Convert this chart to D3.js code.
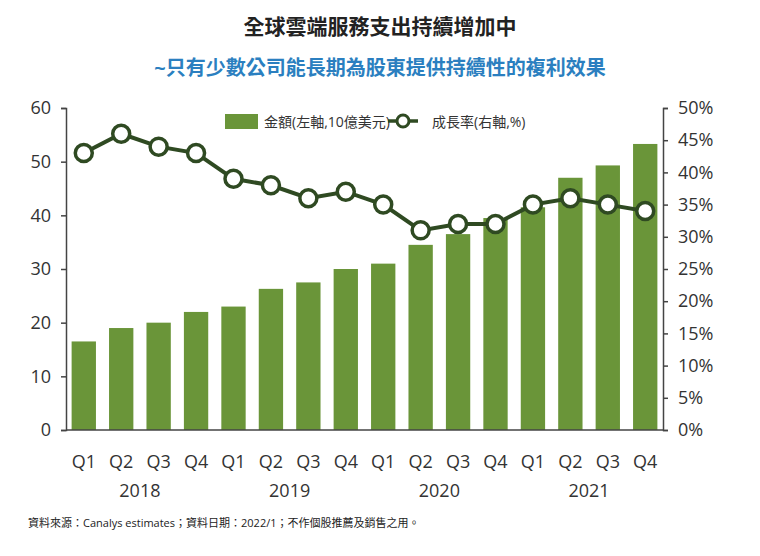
<!DOCTYPE html>
<html>
<head>
  <meta charset="utf-8">
  <script src="https://d3js.org/d3.v7.min.js"></script>
  <style>
    body { margin: 0; background: #fff; }
    text { font-family: "Open Sans", "Noto Sans CJK TC", sans-serif; }
  </style>
</head>
<body>
<div id="chart"></div>
<script>
// Data
var quarters = ["Q1","Q2","Q3","Q4","Q1","Q2","Q3","Q4","Q1","Q2","Q3","Q4","Q1","Q2","Q3","Q4"];
var years = ["2018", "2019", "2020", "2021"];
var spend = [16.5, 19, 20, 22, 23, 26.3, 27.5, 30, 31, 34.5, 36.5, 39.5, 41.5, 47, 49.3, 53.3];
var growth = [43, 46, 44, 43, 39, 38, 36, 37, 35, 31, 32, 32, 35, 36, 35, 34];
var leftTicks = [0, 10, 20, 30, 40, 50, 60];
var rightTicks = [0, 5, 10, 15, 20, 25, 30, 35, 40, 45, 50];

var W = 760, H = 556, green = "#6a9539", dark = "#2f4a22";
var m = { left: 66, right: 97, top: 108, bottom: 126 };

var svg = d3.select("#chart").append("svg").attr("width", W).attr("height", H);

svg.append("text").attr("x", 380).attr("y", 34).attr("text-anchor", "middle")
    .style("font-size", "21px").style("font-weight", "bold").attr("fill", "#222")
    .text("全球雲端服務支出持續增加中");
svg.append("text").attr("x", 380).attr("y", 75).attr("text-anchor", "middle")
    .style("font-size", "20px").style("font-weight", "bold").attr("fill", "#2b7fc0")
    .text("~只有少數公司能長期為股東提供持續性的複利效果");

var x = d3.scaleBand().domain(d3.range(16)).range([m.left, W - m.right]).paddingInner(0.35).paddingOuter(0.15);
var yL = d3.scaleLinear().domain([0, 60]).range([H - m.bottom, m.top]);
var yR = d3.scaleLinear().domain([0, 50]).range([H - m.bottom, m.top]);

// Bars
svg.selectAll("rect.bar").data(spend).enter().append("rect")
    .attr("x", function(d, i) { return x(i); })
    .attr("y", function(d) { return yL(d); })
    .attr("width", x.bandwidth())
    .attr("height", function(d) { return yL(0) - yL(d); })
    .attr("fill", green);

// Axes
var axL = svg.append("g").attr("transform", "translate(" + m.left + ",0)")
    .call(d3.axisLeft(yL).tickValues(leftTicks).tickSize(5).tickPadding(10));
var axR = svg.append("g").attr("transform", "translate(" + (W - m.right) + ",0)")
    .call(d3.axisRight(yR).tickValues(rightTicks).tickSize(5).tickPadding(10)
      .tickFormat(function(d) { return d + "%"; }));
[axL, axR].forEach(function(a) {
  a.selectAll("path, line").attr("stroke", "#444").attr("stroke-width", 1.5);
  a.selectAll("text").style("font-size", "18px").attr("fill", "#333");
});
svg.append("line").attr("x1", m.left).attr("x2", W - m.right)
    .attr("y1", yL(0)).attr("y2", yL(0)).attr("stroke", "#444").attr("stroke-width", 1.5);

// Line
var line = d3.line().x(function(d, i) { return x(i) + x.bandwidth() / 2; }).y(function(d) { return yR(d); });
svg.append("path").datum(growth).attr("d", line).attr("fill", "none")
    .attr("stroke", dark).attr("stroke-width", 4);
svg.selectAll("circle.pt").data(growth).enter().append("circle")
    .attr("cx", function(d, i) { return x(i) + x.bandwidth() / 2; })
    .attr("cy", function(d) { return yR(d); })
    .attr("r", 8.5).attr("fill", "#fff").attr("stroke", dark).attr("stroke-width", 3.5);

// X labels
svg.selectAll("text.q").data(quarters).enter().append("text")
    .attr("x", function(d, i) { return x(i) + x.bandwidth() / 2; })
    .attr("y", 468).attr("text-anchor", "middle")
    .style("font-size", "18px").attr("fill", "#333").text(function(d) { return d; });
svg.selectAll("text.yr").data(years).enter().append("text")
    .attr("x", function(d, i) { return (x(i * 4 + 1) + x(i * 4 + 2) + x.bandwidth()) / 2; })
    .attr("y", 497).attr("text-anchor", "middle")
    .style("font-size", "18px").attr("fill", "#333").text(function(d) { return d; });

// Legend
var lg = svg.append("g");
lg.append("rect").attr("x", 225).attr("y", 114).attr("width", 33).attr("height", 15).attr("fill", green);
lg.append("text").attr("x", 264).attr("y", 127).style("font-size", "14px").attr("fill", "#333").text("金額(左軸,10億美元)");
lg.append("line").attr("x1", 388).attr("x2", 418).attr("y1", 121).attr("y2", 121).attr("stroke", dark).attr("stroke-width", 3.5);
lg.append("circle").attr("cx", 403).attr("cy", 121).attr("r", 6).attr("fill", "#fff").attr("stroke", dark).attr("stroke-width", 3);
lg.append("text").attr("x", 432).attr("y", 127).style("font-size", "14px").attr("fill", "#333").text("成長率(右軸,%)");

svg.append("text").attr("x", 28).attr("y", 527).style("font-size", "11px").attr("fill", "#222")
    .text("資料來源：Canalys estimates；資料日期：2022/1；不作個股推薦及銷售之用。");
</script>
</body>
</html>
